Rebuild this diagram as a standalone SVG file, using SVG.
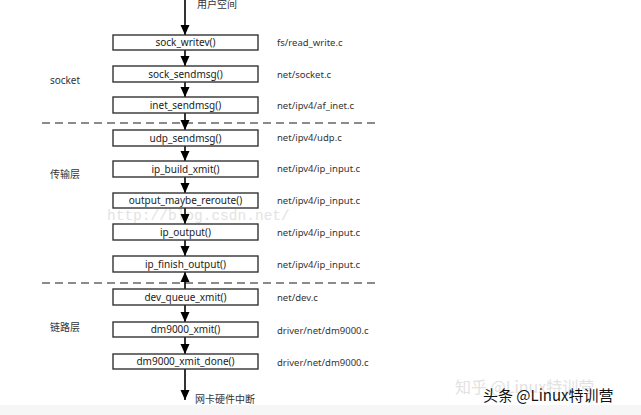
<svg xmlns="http://www.w3.org/2000/svg" width="641" height="415" viewBox="0 0 641 415">
<defs>
<marker id="ah" markerUnits="userSpaceOnUse" markerWidth="10" markerHeight="10" viewBox="0 0 10 10" refX="10" refY="5" orient="auto">
<path d="M0,0.5 L10,5 L0,9.5 Z" fill="#000"/>
</marker>
</defs>
<style>
.box{fill:#fff;stroke:#333;stroke-width:1.4}
.fn{font-family:"Noto Sans","Liberation Sans",sans-serif;font-size:10px;fill:#222;text-anchor:middle}
.src{font-family:"Noto Sans","Liberation Sans",sans-serif;font-size:9.5px;fill:#333}
.lay{font-family:"Noto Sans","Noto Sans CJK SC",sans-serif;font-size:10px;fill:#333;text-anchor:middle}
.cn{font-family:"Noto Sans CJK SC",sans-serif;font-size:10px;fill:#333}
.dash{stroke:#666;stroke-width:1.3;stroke-dasharray:8,5;fill:none}
.ar{stroke:#000;stroke-width:1.6;fill:none;marker-end:url(#ah)}
</style>
<rect x="0" y="0" width="641" height="415" fill="#fff"/>
<rect x="0" y="405" width="641" height="10" fill="#f6f6f6"/>
<text x="107" y="220" style="font-family:'Liberation Mono',monospace;font-size:14.5px;fill:#e3e3e3">http://blog.csdn.net/</text>
<g id="dividers">
<line class="dash" x1="42" y1="123" x2="380" y2="123"/>
<line class="dash" x1="42" y1="283" x2="380" y2="283"/>
</g>
<g id="layers">
<text class="lay" x="65" y="84">socket</text>
<text class="lay" x="65" y="178">传输层</text>
<text class="lay" x="65" y="331">链路层</text>
</g>
<g id="connectors">
<line class="ar" x1="185" y1="0" x2="185" y2="35"/>
<line class="ar" x1="185" y1="50" x2="185" y2="66"/>
<line class="ar" x1="185" y1="82" x2="185" y2="97"/>
<line class="ar" x1="185" y1="113" x2="185" y2="130"/>
<line class="ar" x1="185" y1="146" x2="185" y2="161"/>
<line class="ar" x1="185" y1="177" x2="185" y2="193"/>
<line class="ar" x1="185" y1="208" x2="185" y2="224"/>
<line class="ar" x1="185" y1="240" x2="185" y2="256"/>
<line class="ar" x1="185" y1="289" x2="185" y2="272"/>
<line class="ar" x1="185" y1="305" x2="185" y2="322"/>
<line class="ar" x1="185" y1="337" x2="185" y2="354"/>
<line class="ar" x1="185" y1="369" x2="185" y2="400"/>
</g>
<text class="cn" x="197" y="8">用户空间</text>
<text class="cn" x="195" y="403">网卡硬件中断</text>
<g id="n1"><rect class="box" x="113" y="35" width="145" height="15"/><text class="fn" x="185.5" y="46">sock_writev()</text><text class="src" x="277" y="46">fs/read_write.c</text></g>
<g id="n2"><rect class="box" x="113" y="66" width="145" height="16"/><text class="fn" x="185.5" y="77.5">sock_sendmsg()</text><text class="src" x="277" y="78">net/socket.c</text></g>
<g id="n3"><rect class="box" x="113" y="97" width="145" height="16"/><text class="fn" x="185.5" y="108.5">inet_sendmsg()</text><text class="src" x="277" y="109">net/ipv4/af_inet.c</text></g>
<g id="n4"><rect class="box" x="113" y="130" width="145" height="16"/><text class="fn" x="185.5" y="141.5">udp_sendmsg()</text><text class="src" x="277" y="141">net/ipv4/udp.c</text></g>
<g id="n5"><rect class="box" x="113" y="161" width="145" height="16"/><text class="fn" x="185.5" y="172.5">ip_build_xmit()</text><text class="src" x="277" y="172">net/ipv4/ip_input.c</text></g>
<g id="n6"><rect class="box" x="113" y="193" width="145" height="15"/><text class="fn" x="185.5" y="204">output_maybe_reroute()</text><text class="src" x="277" y="204">net/ipv4/ip_input.c</text></g>
<g id="n7"><rect class="box" x="113" y="224" width="145" height="16"/><text class="fn" x="185.5" y="235.5">ip_output()</text><text class="src" x="277" y="236">net/ipv4/ip_input.c</text></g>
<g id="n8"><rect class="box" x="113" y="256" width="145" height="16"/><text class="fn" x="185.5" y="267.5">ip_finish_output()</text><text class="src" x="277" y="268">net/ipv4/ip_input.c</text></g>
<g id="n9"><rect class="box" x="113" y="289" width="145" height="16"/><text class="fn" x="185.5" y="300.5">dev_queue_xmit()</text><text class="src" x="277" y="301">net/dev.c</text></g>
<g id="n10"><rect class="box" x="113" y="322" width="145" height="15"/><text class="fn" x="185.5" y="333">dm9000_xmit()</text><text class="src" x="277" y="334">driver/net/dm9000.c</text></g>
<g id="n11"><rect class="box" x="113" y="354" width="145" height="15"/><text class="fn" x="185.5" y="365">dm9000_xmit_done()</text><text class="src" x="277" y="366">driver/net/dm9000.c</text></g>
<text x="455" y="393" style="font-family:'Noto Sans CJK SC',sans-serif;font-size:16px;fill:#e2e2e2">知乎 @Linux特训营</text>
<text x="483" y="401" style="font-family:'Noto Sans CJK SC',sans-serif;font-size:15px;fill:#111">头条 @Linux特训营</text>
</svg>
